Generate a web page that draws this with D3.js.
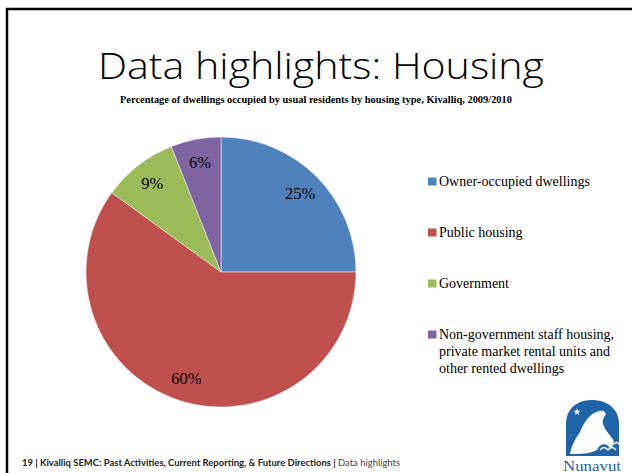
<!DOCTYPE html>
<html>
<head>
<meta charset="utf-8">
<script src="https://cdn.jsdelivr.net/npm/d3@7"></script>
<style>
  html, body { margin: 0; padding: 0; background: #fff; }
  svg { display: block; }
  .serif { font-family: "Liberation Serif", "DejaVu Serif", serif; }
</style>
</head>
<body>
<svg id="slide" width="632" height="473"></svg>
<script>
// Housing type shares, Kivalliq 2009/2010
const categories = [
  "Owner-occupied dwellings",
  "Public housing",
  "Government",
  "Non-government staff housing, private market rental units and other rented dwellings"
];
const legendLines = [
  ["Owner-occupied dwellings"],
  ["Public housing"],
  ["Government"],
  ["Non-government staff housing,", "private market rental units and", "other rented dwellings"]
];
const values = [25, 60, 9, 6];
const colors = ["#4f81bd", "#c0504d", "#9bbb59", "#8064a2"];

const svg = d3.select("#slide");
const W = 632, H = 473;

// slide frame: left and top rules
svg.append("path")
  .attr("d", `M7,${H} L7,9 L${W},9`)
  .attr("fill", "none")
  .attr("stroke", "#000")
  .attr("stroke-width", 2.5);

// heading
svg.append("text")
  .attr("x", 321).attr("y", 79)
  .attr("text-anchor", "middle")
  .style("font-family", "'Open Sans', sans-serif")
  .style("font-weight", 300)
  .style("font-size", "36px")
  .attr("textLength", 446)
  .attr("lengthAdjust", "spacingAndGlyphs")
  .attr("fill", "#000")
  .text("Data highlights: Housing");

svg.append("text")
  .attr("class", "serif")
  .attr("x", 316).attr("y", 103)
  .attr("text-anchor", "middle")
  .style("font-weight", "bold")
  .style("font-size", "10px")
  .attr("textLength", 392)
  .attr("lengthAdjust", "spacingAndGlyphs")
  .attr("fill", "#000")
  .text("Percentage of dwellings occupied by usual residents by housing type, Kivalliq, 2009/2010");

// pie
const cx = 221, cy = 272, r = 135;
const pie = d3.pie().sort(null).value(d => d);
const arcs = pie(values);
const arc = d3.arc().innerRadius(0).outerRadius(r);
const labelArc = d3.arc().innerRadius(112).outerRadius(112);

const g = svg.append("g").attr("transform", `translate(${cx},${cy})`);
g.selectAll("path.slice")
  .data(arcs)
  .enter().append("path")
  .attr("class", "slice")
  .attr("d", arc)
  .attr("fill", (d, i) => colors[i])
  .attr("stroke", "#fff")
  .attr("stroke-width", 0.5);

g.selectAll("text.val")
  .data(arcs)
  .enter().append("text")
  .attr("class", "val serif")
  .attr("transform", d => `translate(${labelArc.centroid(d)})`)
  .attr("text-anchor", "middle")
  .attr("dy", "0.35em")
  .style("font-size", "16.5px")
  .attr("fill", "#000")
  .text(d => d.data + "%");

// legend
const legendY = [186, 237, 288, 339];
const leg = svg.append("g");
legendLines.forEach((lines, i) => {
  leg.append("rect")
    .attr("x", 428).attr("y", legendY[i] - 8.5)
    .attr("width", 8.5).attr("height", 8)
    .attr("fill", colors[i]);
  const t = leg.append("text")
    .attr("class", "serif")
    .attr("x", 439).attr("y", legendY[i])
    .style("font-size", "14px")
    .attr("fill", "#000");
  lines.forEach((ln, j) => {
    t.append("tspan").attr("x", 439).attr("dy", j === 0 ? 0 : 17).text(ln);
  });
});

// footer
const foot = svg.append("text")
  .attr("x", 22).attr("y", 466)
  .style("font-family", "Lato, 'DejaVu Sans', sans-serif")
  .style("font-size", "8.5px")
  .attr("textLength", 378)
  .attr("lengthAdjust", "spacingAndGlyphs")
  .attr("fill", "#222");
foot.append("tspan").style("font-weight", "bold")
  .text("19 | Kivalliq SEMC: Past Activities, Current Reporting, & Future Directions | ");
foot.append("tspan").attr("fill", "#444").text("Data highlights");

// Nunavut emblem
const logo = svg.append("g").attr("transform", "translate(564,398)");
logo.append("path")
  .attr("d", "M2,58 L2,26 C2,10 14,2 28,2 C42,2 55,10 55,26 L55,58 Z")
  .attr("fill", "#1f63a8");
// bear silhouette
logo.append("path")
  .attr("d", "M6,56 C8,46 12,40 16,34 C18,28 22,22 26,18 C30,14 36,12 40,13 L42,16 C40,19 38,22 39,26 C41,32 45,36 48,40 C51,44 50,49 46,50 L43,47 C39,45 35,47 33,52 C26,56 16,56 6,56 Z")
  .attr("fill", "#fff");
// inuktitut glyph strokes
logo.append("path")
  .attr("d", "M36,52 q4,-5 8,0 M44,52 q4,-5 8,0 M50,46 q3,-3 5,0")
  .attr("fill", "none")
  .attr("stroke", "#fff")
  .attr("stroke-width", 1.5);
// star
logo.append("path")
  .attr("d", d3.symbol(d3.symbolStar, 16)())
  .attr("transform", "translate(13,14)")
  .attr("fill", "#fff");
logo.append("text")
  .attr("class", "serif")
  .attr("x", 28).attr("y", 73)
  .attr("text-anchor", "middle")
  .style("font-size", "15px")
  .attr("textLength", 58)
  .attr("lengthAdjust", "spacingAndGlyphs")
  .attr("fill", "#1f63a8")
  .text("Nunavut");
</script>
</body>
</html>
